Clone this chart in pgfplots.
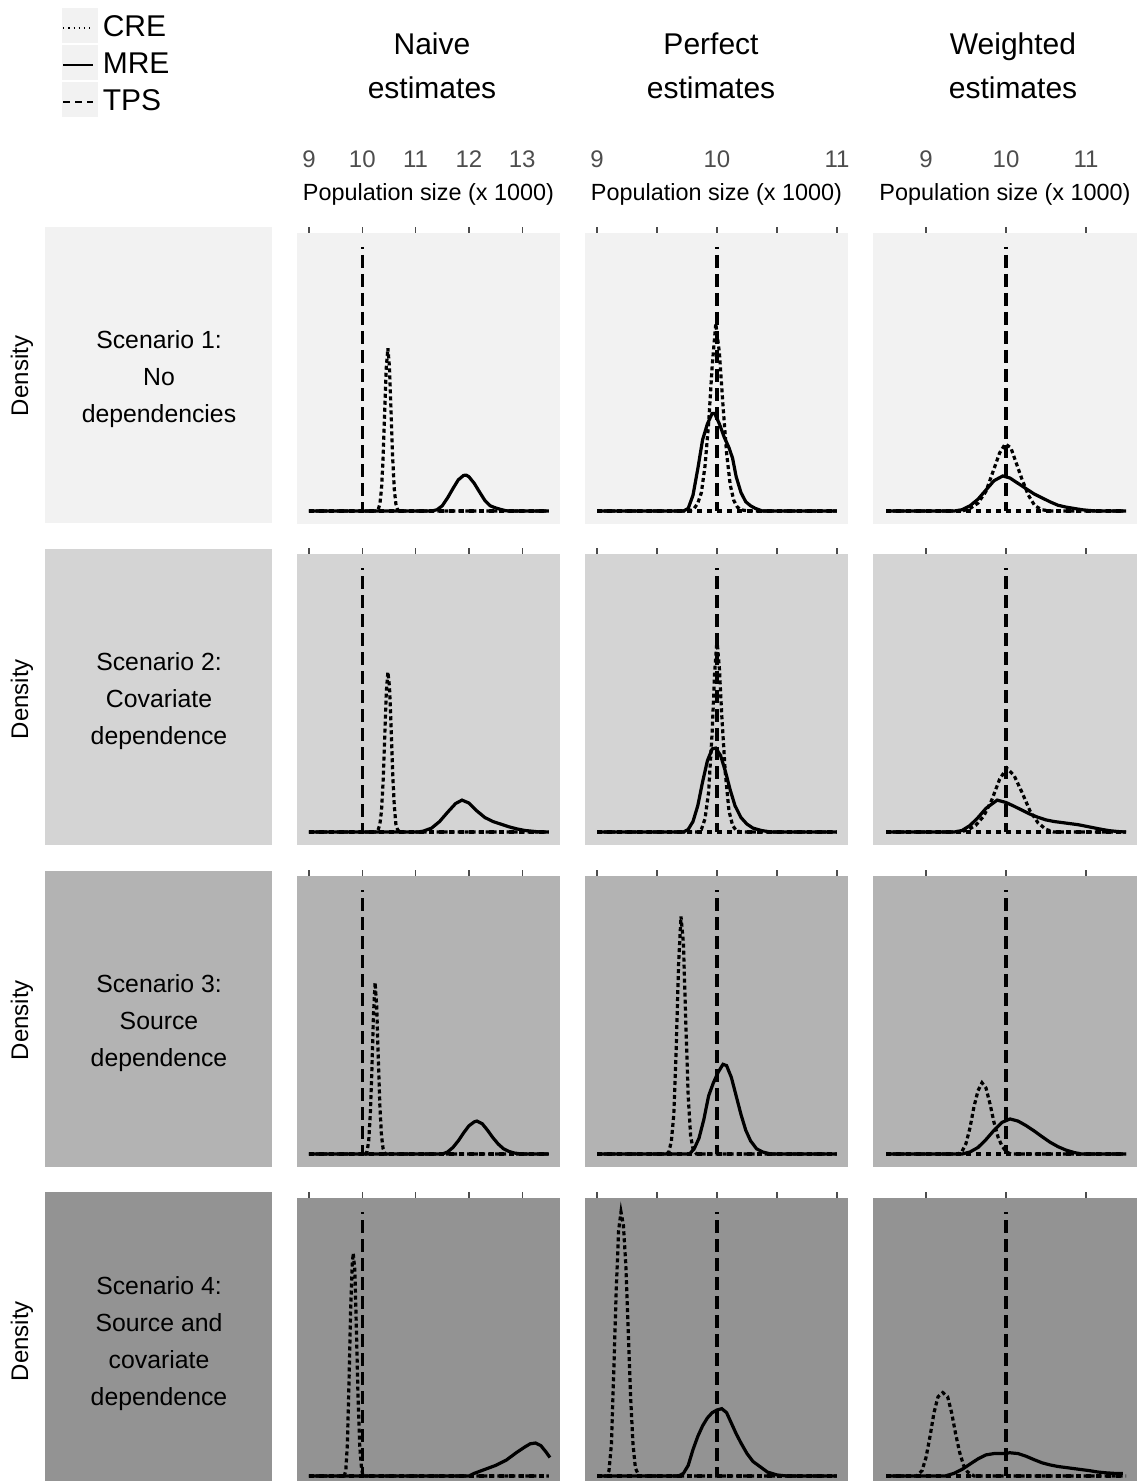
\documentclass[border=0pt]{standalone}
\usepackage{pgfplots}
\pgfplotsset{compat=1.18}
\usepackage{fontspec}
\setmainfont{Liberation Sans}
\definecolor{bgA}{HTML}{F2F2F2}
\definecolor{bgB}{HTML}{D4D4D4}
\definecolor{bgC}{HTML}{B3B3B3}
\definecolor{bgD}{HTML}{939393}
\definecolor{tickgray}{HTML}{4D4D4D}

\pgfplotsset{
  panel/.style={scale only axis, width=131.5pt, height=145.5pt, anchor=south west,
    axis x line*=top, axis y line=none, x axis line style={draw=none},
    ymin=-0.049, ymax=1.053, ytick=\empty, tick align=outside, major tick length=3pt,
    xtick style={tickgray, line width=0.6pt}, xticklabels={}},
  toprow/.style={
    xticklabel style={font=\fontsize{12}{14}\selectfont, text=tickgray, anchor=base, yshift=30pt},
    xlabel={Population size (x 1000)},
    xlabel style={font=\fontsize{11.7}{14}\selectfont, at={(axis description cs:0.5,1)}, anchor=base, yshift=16.5pt}},
  colA/.style={xmin=8.775, xmax=13.709, xtick={9,10,11,12,13}},
  colB/.style={xmin=8.9, xmax=11.092, xtick={9,9.5,10,10.5,11}},
  colC/.style={xmin=8.3375, xmax=11.6375, xtick={9,10,11}, width=132pt},
  tps/.style={black, line width=1.6pt, dash pattern=on 2.5pt off 2.5pt},
  vl/.style={black, line width=1.6pt, dash pattern=on 6.5pt off 3pt, dash phase=5.5pt},
  cre/.style={black, line width=1.6pt, dash pattern=on 2pt off 1.5pt},
  mre/.style={black, line width=1.6pt},
}

\begin{document}
\begin{tikzpicture}
\begin{scope}[x=0.5pt, y=-0.5pt]
  % legend key backgrounds
  \fill[bgA] (62,8) rectangle (98,43);
  \fill[bgA] (62,45) rectangle (98,80);
  \fill[bgA] (62,82) rectangle (98,117);
  % row strips
  \fill[bgA] (45,227) rectangle (272,523);
  \fill[bgB] (45,549) rectangle (272,845);
  \fill[bgC] (45,871) rectangle (272,1167);
  \fill[bgD] (45,1192) rectangle (272,1481);
  \begin{scope}[every node/.style={font=\fontsize{12.4}{18.5}\selectfont, align=center}]
    \node at (159,379) {Scenario 1:\\No\\dependencies};
    \node at (159,701) {Scenario 2:\\Covariate\\dependence};
    \node at (159,1023) {Scenario 3:\\Source\\dependence};
    \node at (159,1344) {Scenario 4:\\Source and\\covariate\\dependence};
  \end{scope}
  \begin{scope}[every node/.style={font=\fontsize{12}{14}\selectfont, rotate=90}]
    \node at (22,376) {Density};
    \node at (22,699) {Density};
    \node at (22,1020) {Density};
    \node at (22,1341) {Density};
  \end{scope}
  \begin{scope}[every node/.style={font=\fontsize{15}{22}\selectfont, align=center}]
    \node at (432,66) {Naive\\estimates};
    \node at (711,66) {Perfect\\estimates};
    \node at (1013,66) {Weighted\\estimates};
  \end{scope}
\end{scope}

% ---------------- Row 1 ----------------
\begin{axis}[panel, colA, toprow, at={(148.5pt,-262pt)}, xticklabels={9,10,11,12,13},
  axis background/.style={fill=bgA},
  legend style={at={(axis description cs:-0.8935,1.761)}, anchor=north west, draw=none, fill=none,
    font=\fontsize{15}{18}\selectfont, legend cell align=left, row sep=2.6pt, inner sep=0pt,
    nodes={inner xsep=4.5pt}},
  legend image code/.code={\draw[#1] (1pt,0pt) -- (16pt,0pt);}]
\addlegendimage{black, line width=0.6pt, dash pattern=on 0.6pt off 2pt}
\addlegendimage{black, line width=0.7pt}
\addlegendimage{black, line width=0.7pt, dash pattern=on 3.5pt off 2.5pt}
\legend{CRE,MRE,TPS}
\addplot[tps] coordinates {(9,0)(13.5,0)};
\addplot[vl] coordinates {(10,1)(10,0)};
\addplot[cre] coordinates {(9,0)(10.27,0)(10.30,0.007)(10.33,0.027)(10.36,0.083)(10.39,0.2)(10.42,0.375)(10.45,0.544)(10.48,0.617)(10.51,0.544)(10.54,0.375)(10.57,0.2)(10.60,0.083)(10.63,0.027)(10.66,0.007)(10.69,0)(13.5,0)};
\addplot[mre] coordinates {(9,0)(11.3,0)(11.4,0.005)(11.5,0.02)(11.6,0.05)(11.7,0.085)(11.8,0.118)(11.9,0.135)(11.95,0.136)(12.0,0.13)(12.1,0.105)(12.2,0.072)(12.3,0.04)(12.4,0.02)(12.5,0.012)(12.6,0.006)(12.7,0.001)(12.8,0)(13.5,0)};
\end{axis}

\begin{axis}[panel, colB, toprow, at={(292.5pt,-262pt)}, xticklabels={9,,10,,11},
  axis background/.style={fill=bgA}]
\addplot[tps] coordinates {(9,0)(11,0)};
\addplot[vl] coordinates {(10,1)(10,0)};
\addplot[cre] coordinates {(9,0)(9.75,0)(9.78,0.003)(9.81,0.01)(9.84,0.03)(9.87,0.07)(9.90,0.17)(9.93,0.33)(9.96,0.55)(9.99,0.71)(10.02,0.60)(10.05,0.40)(10.08,0.22)(10.11,0.10)(10.14,0.04)(10.17,0.015)(10.20,0.005)(10.26,0)(11,0)};
\addplot[mre] coordinates {(9,0)(9.72,0)(9.76,0.01)(9.80,0.06)(9.84,0.16)(9.88,0.27)(9.92,0.33)(9.96,0.37)(9.98,0.37)(10.02,0.33)(10.06,0.28)(10.10,0.24)(10.13,0.2)(10.16,0.13)(10.20,0.07)(10.24,0.035)(10.28,0.02)(10.32,0.01)(10.38,0)(11,0)};
\end{axis}

\begin{axis}[panel, colC, toprow, at={(436.5pt,-262pt)}, xticklabels={9,10,11},
  axis background/.style={fill=bgA}]
\addplot[tps] coordinates {(8.5,0)(11.5,0)};
\addplot[vl] coordinates {(10,1)(10,0)};
\addplot[cre] coordinates {(8.5,0)(9.45,0)(9.55,0.01)(9.65,0.03)(9.75,0.075)(9.85,0.16)(9.92,0.22)(9.99,0.254)(10.06,0.24)(10.13,0.18)(10.2,0.12)(10.28,0.06)(10.36,0.02)(10.45,0.005)(10.55,0)(11.5,0)};
\addplot[mre] coordinates {(8.5,0)(9.35,0)(9.45,0.005)(9.55,0.02)(9.65,0.045)(9.75,0.08)(9.85,0.115)(9.96,0.133)(10.05,0.125)(10.15,0.105)(10.25,0.085)(10.35,0.065)(10.45,0.05)(10.55,0.035)(10.65,0.022)(10.75,0.015)(10.85,0.01)(10.95,0.005)(11.05,0.002)(11.15,0)(11.5,0)};
\end{axis}

% ---------------- Row 2 ----------------
\begin{axis}[panel, colA, at={(148.5pt,-422.5pt)}, axis background/.style={fill=bgB}]
\addplot[tps] coordinates {(9,0)(13.5,0)};
\addplot[vl] coordinates {(10,1)(10,0)};
\addplot[cre] coordinates {(9,0)(10.27,0)(10.30,0.01)(10.33,0.03)(10.36,0.08)(10.39,0.19)(10.42,0.36)(10.45,0.53)(10.48,0.606)(10.51,0.55)(10.54,0.4)(10.57,0.22)(10.60,0.1)(10.63,0.03)(10.66,0.01)(10.70,0)(13.5,0)};
\addplot[mre] coordinates {(9,0)(11.05,0)(11.15,0.004)(11.3,0.015)(11.45,0.04)(11.6,0.075)(11.75,0.108)(11.87,0.121)(12.0,0.11)(12.15,0.08)(12.3,0.055)(12.45,0.04)(12.6,0.03)(12.75,0.02)(12.9,0.012)(13.05,0.006)(13.2,0.003)(13.35,0)(13.5,0)};
\end{axis}

\begin{axis}[panel, colB, at={(292.5pt,-422.5pt)}, axis background/.style={fill=bgB}]
\addplot[tps] coordinates {(9,0)(11,0)};
\addplot[vl] coordinates {(10,1)(10,0)};
\addplot[cre] coordinates {(9,0)(9.84,0)(9.87,0.01)(9.90,0.05)(9.93,0.15)(9.96,0.38)(9.98,0.6)(10.00,0.727)(10.02,0.62)(10.04,0.44)(10.07,0.22)(10.10,0.08)(10.13,0.025)(10.16,0.006)(10.2,0)(11,0)};
\addplot[mre] coordinates {(9,0)(9.72,0)(9.76,0.01)(9.80,0.04)(9.84,0.1)(9.88,0.19)(9.92,0.27)(9.96,0.315)(9.99,0.318)(10.03,0.29)(10.07,0.23)(10.11,0.16)(10.15,0.1)(10.2,0.055)(10.25,0.03)(10.3,0.015)(10.37,0.006)(10.45,0)(11,0)};
\end{axis}

\begin{axis}[panel, colC, at={(436.5pt,-422.5pt)}, axis background/.style={fill=bgB}]
\addplot[tps] coordinates {(8.5,0)(11.5,0)};
\addplot[vl] coordinates {(10,1)(10,0)};
\addplot[cre] coordinates {(8.5,0)(9.42,0)(9.52,0.008)(9.62,0.025)(9.72,0.06)(9.82,0.12)(9.92,0.2)(10.01,0.242)(10.1,0.215)(10.2,0.15)(10.3,0.08)(10.4,0.035)(10.5,0.01)(10.6,0)(11.5,0)};
\addplot[mre] coordinates {(8.5,0)(9.35,0)(9.45,0.006)(9.55,0.025)(9.65,0.055)(9.75,0.09)(9.89,0.121)(10.0,0.112)(10.1,0.098)(10.2,0.083)(10.3,0.068)(10.4,0.056)(10.5,0.046)(10.6,0.04)(10.7,0.036)(10.8,0.032)(10.9,0.028)(11.0,0.022)(11.1,0.016)(11.2,0.01)(11.3,0.005)(11.4,0.002)(11.5,0)};
\end{axis}

% ---------------- Row 3 ----------------
\begin{axis}[panel, colA, at={(148.5pt,-583.5pt)}, axis background/.style={fill=bgC}]
\addplot[tps] coordinates {(9,0)(13.5,0)};
\addplot[vl] coordinates {(10,1)(10,0)};
\addplot[cre] coordinates {(9,0)(10.06,0)(10.09,0.01)(10.12,0.05)(10.15,0.15)(10.18,0.32)(10.21,0.53)(10.24,0.65)(10.27,0.56)(10.30,0.36)(10.33,0.18)(10.36,0.07)(10.39,0.02)(10.43,0)(13.5,0)};
\addplot[mre] coordinates {(9,0)(11.5,0)(11.6,0.008)(11.7,0.025)(11.8,0.05)(11.9,0.08)(12.0,0.107)(12.1,0.122)(12.15,0.125)(12.25,0.115)(12.35,0.09)(12.45,0.062)(12.55,0.038)(12.65,0.02)(12.75,0.01)(12.85,0.004)(13.0,0)(13.5,0)};
\end{axis}

\begin{axis}[panel, colB, at={(292.5pt,-583.5pt)}, axis background/.style={fill=bgC}]
\addplot[tps] coordinates {(9,0)(11,0)};
\addplot[vl] coordinates {(10,1)(10,0)};
\addplot[cre] coordinates {(9,0)(9.58,0)(9.60,0.01)(9.62,0.05)(9.64,0.15)(9.66,0.4)(9.68,0.72)(9.70,0.9)(9.72,0.8)(9.74,0.5)(9.76,0.22)(9.78,0.07)(9.80,0.02)(9.83,0)(11,0)};
\addplot[mre] coordinates {(9,0)(9.77,0)(9.81,0.02)(9.85,0.06)(9.89,0.13)(9.93,0.22)(9.97,0.27)(10.01,0.31)(10.05,0.34)(10.08,0.335)(10.12,0.29)(10.16,0.22)(10.2,0.15)(10.24,0.09)(10.28,0.05)(10.33,0.02)(10.38,0.008)(10.45,0)(11,0)};
\end{axis}

\begin{axis}[panel, colC, at={(436.5pt,-583.5pt)}, axis background/.style={fill=bgC}]
\addplot[tps] coordinates {(8.5,0)(11.5,0)};
\addplot[vl] coordinates {(10,1)(10,0)};
\addplot[cre] coordinates {(8.5,0)(9.4,0)(9.45,0.01)(9.5,0.04)(9.55,0.1)(9.6,0.18)(9.65,0.24)(9.7,0.27)(9.75,0.25)(9.8,0.19)(9.85,0.12)(9.9,0.065)(9.95,0.03)(10.0,0.01)(10.06,0)(11.5,0)};
\addplot[mre] coordinates {(8.5,0)(9.45,0)(9.55,0.008)(9.65,0.025)(9.75,0.055)(9.85,0.09)(9.95,0.12)(10.05,0.133)(10.15,0.125)(10.25,0.108)(10.35,0.088)(10.45,0.066)(10.55,0.045)(10.65,0.028)(10.75,0.015)(10.85,0.006)(10.95,0)(11.5,0)};
\end{axis}

% ---------------- Row 4 ----------------
\begin{axis}[panel, colA, at={(148.5pt,-740.5pt)}, height=141.5pt, ymin=-0.019, axis background/.style={fill=bgD}]
\addplot[tps] coordinates {(9,0)(13.5,0)};
\addplot[vl] coordinates {(10,1)(10,0)};
\addplot[cre] coordinates {(9,0)(9.66,0)(9.69,0.02)(9.72,0.12)(9.75,0.35)(9.78,0.62)(9.81,0.8)(9.83,0.844)(9.86,0.78)(9.89,0.55)(9.92,0.3)(9.95,0.12)(9.98,0.04)(10.01,0)(13.5,0)};
\addplot[mre] coordinates {(9,0)(12.0,0)(12.1,0.01)(12.3,0.025)(12.5,0.04)(12.7,0.06)(12.9,0.09)(13.05,0.11)(13.15,0.122)(13.25,0.125)(13.35,0.115)(13.45,0.09)(13.52,0.07)};
\end{axis}

\begin{axis}[panel, colB, at={(292.5pt,-740.5pt)}, height=141.5pt, ymin=-0.019, axis background/.style={fill=bgD}]
\addplot[tps] coordinates {(9,0)(11,0)};
\addplot[vl] coordinates {(10,1)(10,0)};
\addplot[cre] coordinates {(9,0)(9.08,0)(9.10,0.02)(9.12,0.12)(9.14,0.4)(9.16,0.7)(9.18,0.93)(9.20,1.0)(9.22,0.95)(9.24,0.8)(9.26,0.55)(9.28,0.3)(9.30,0.12)(9.32,0.03)(9.35,0)(11,0)};
\addplot[mre] coordinates {(9,0)(9.68,0)(9.72,0.01)(9.76,0.04)(9.8,0.1)(9.84,0.15)(9.88,0.19)(9.92,0.22)(9.96,0.24)(10.0,0.25)(10.04,0.255)(10.08,0.24)(10.12,0.2)(10.16,0.16)(10.2,0.125)(10.25,0.085)(10.3,0.055)(10.36,0.035)(10.42,0.015)(10.5,0.004)(10.58,0)(11,0)};
\end{axis}

\begin{axis}[panel, colC, at={(436.5pt,-740.5pt)}, height=141.5pt, ymin=-0.019, axis background/.style={fill=bgD}]
\addplot[tps] coordinates {(8.5,0)(11.5,0)};
\addplot[vl] coordinates {(10,1)(10,0)};
\addplot[cre] coordinates {(8.5,0)(8.88,0)(8.95,0.02)(9.0,0.07)(9.05,0.15)(9.1,0.24)(9.15,0.3)(9.21,0.316)(9.27,0.3)(9.32,0.24)(9.37,0.16)(9.42,0.09)(9.47,0.04)(9.52,0.015)(9.6,0)(11.5,0)};
\addplot[mre] coordinates {(8.5,0)(9.24,0)(9.35,0.01)(9.45,0.025)(9.55,0.045)(9.65,0.065)(9.75,0.08)(9.85,0.085)(9.95,0.085)(10.05,0.088)(10.15,0.085)(10.25,0.075)(10.35,0.062)(10.45,0.05)(10.55,0.042)(10.65,0.036)(10.75,0.032)(10.85,0.028)(10.95,0.024)(11.05,0.02)(11.15,0.015)(11.25,0.012)(11.35,0.01)(11.46,0.01)};
\end{axis}

\pgfresetboundingbox
\path (0pt,0pt) rectangle (569pt,-740.5pt);
\end{tikzpicture}
\end{document}
